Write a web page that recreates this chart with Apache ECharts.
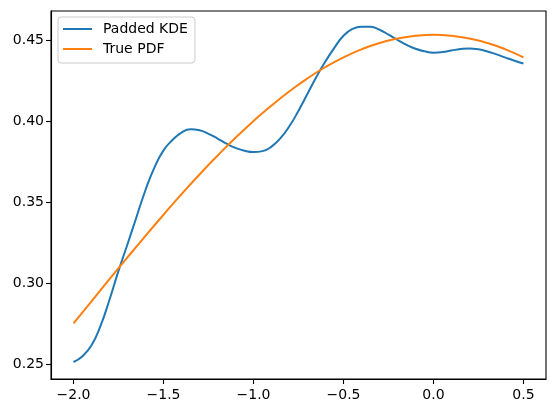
<!DOCTYPE html>
<html>
<head>
<meta charset="utf-8">
<script src="https://cdn.jsdelivr.net/npm/echarts@6/dist/echarts.min.js"></script>
<style>
    html, body { margin: 0; padding: 0; background: #fff; }
    #chart { width: 556px; height: 413px; }
</style>
</head>
<body>
<div id="chart"></div>
<script>
// x 网格 (KDE 每 0.05 取一个点)
const kdeX = [
    -2.00, -1.95, -1.90, -1.85, -1.80, -1.75, -1.70, -1.65, -1.60, -1.55,
    -1.50, -1.45, -1.40, -1.35, -1.30, -1.25, -1.20, -1.15, -1.10, -1.05,
    -1.00, -0.95, -0.90, -0.85, -0.80, -0.75, -0.70, -0.65, -0.60, -0.55,
    -0.50, -0.45, -0.40, -0.35, -0.30, -0.25, -0.20, -0.15, -0.10, -0.05,
    0.00, 0.05, 0.10, 0.15, 0.20, 0.25, 0.30, 0.35, 0.40, 0.45, 0.50
]
const kdeY = [
    0.2512, 0.2548, 0.2615, 0.2735, 0.2897, 0.3075, 0.3240, 0.3408, 0.3575, 0.3715,
    0.3820, 0.3884, 0.3930, 0.3950, 0.3944, 0.3922, 0.3893, 0.3861, 0.3835, 0.3817,
    0.3809, 0.3815, 0.3843, 0.3895, 0.3970, 0.4065, 0.4170, 0.4275, 0.4370, 0.4455,
    0.4528, 0.4570, 0.4584, 0.4583, 0.4565, 0.4535, 0.4502, 0.4472, 0.4448, 0.4432,
    0.4423, 0.4427, 0.4437, 0.4446, 0.4450, 0.4444, 0.4431, 0.4413, 0.4393, 0.4374,
    0.4357
]

// 真实密度 每 0.1 一个点
const pdfX = [
    -2.0, -1.9, -1.8, -1.7, -1.6, -1.5, -1.4, -1.3, -1.2, -1.1,
    -1.0, -0.9, -0.8, -0.7, -0.6, -0.5, -0.4, -0.3, -0.2, -0.1,
    0.0, 0.1, 0.2, 0.3, 0.4, 0.5
]
const pdfY = [
    0.2750, 0.2887, 0.3024, 0.3159, 0.3292, 0.3422, 0.3549, 0.3671, 0.3787, 0.3898,
    0.4001, 0.4097, 0.4185, 0.4265, 0.4335, 0.4395, 0.4444, 0.4483, 0.4511, 0.4528,
    0.4534, 0.4528, 0.4511, 0.4483, 0.4444, 0.4395
]

const xTicks = [-2.0, -1.5, -1.0, -0.5, 0.0, 0.5]
const yTicks = [0.25, 0.30, 0.35, 0.40, 0.45]

const BLUE = '#1f77b4'
const ORANGE = '#ff7f0e'
const FONT = 'DejaVu Sans'

const minus = s => s.replace('-', '\u2212')
const zip = (xs, ys) => xs.map((x, i) => [x, ys[i]])

const axisCommon = {
    type: 'value',
    axisLine: { show: true, onZero: false, lineStyle: { color: '#000', width: 1.1 } },
    axisTick: { show: true, length: 5, lineStyle: { color: '#000', width: 1.1 } },
    splitLine: { show: false },
    axisLabel: { color: '#000', fontFamily: FONT, fontSize: 14 }
}

const chart = echarts.init(document.getElementById('chart'), null, { renderer: 'canvas' })

chart.setOption({
    animation: false,
    backgroundColor: '#fff',
    grid: {
        left: 51, right: 10, top: 11, bottom: 34,
        show: true, borderColor: '#000', borderWidth: 1.1
    },
    xAxis: Object.assign({}, axisCommon, {
        min: -2.125, max: 0.625,
        axisTick: Object.assign({}, axisCommon.axisTick, { customValues: xTicks }),
        axisLabel: Object.assign({}, axisCommon.axisLabel, {
            customValues: xTicks, margin: 9,
            formatter: v => minus(v.toFixed(1))
        })
    }),
    yAxis: Object.assign({}, axisCommon, {
        min: 0.2407, max: 0.4681,
        axisTick: Object.assign({}, axisCommon.axisTick, { customValues: yTicks }),
        axisLabel: Object.assign({}, axisCommon.axisLabel, {
            customValues: yTicks, margin: 7,
            formatter: v => v.toFixed(2)
        })
    }),
    legend: {
        orient: 'vertical',
        left: 58, top: 17,
        padding: [4, 7, 6, 5],
        itemWidth: 29, itemHeight: 2, itemGap: 4,
        icon: 'rect',
        borderColor: '#cccccc', borderWidth: 1, borderRadius: 3,
        backgroundColor: 'rgba(255,255,255,0.8)',
        textStyle: { color: '#000', fontFamily: FONT, fontSize: 14, lineHeight: 16, padding: [0, 0, 0, 6] },
        data: ['Padded KDE', 'True PDF']
    },
    series: [
        {
            name: 'Padded KDE', type: 'line', data: zip(kdeX, kdeY),
            smooth: 0.5, showSymbol: false, symbol: 'none',
            lineStyle: { color: BLUE, width: 2 }, itemStyle: { color: BLUE }
        },
        {
            name: 'True PDF', type: 'line', data: zip(pdfX, pdfY),
            smooth: 0.5, showSymbol: false, symbol: 'none',
            lineStyle: { color: ORANGE, width: 2 }, itemStyle: { color: ORANGE }
        }
    ]
})
</script>
</body>
</html>
